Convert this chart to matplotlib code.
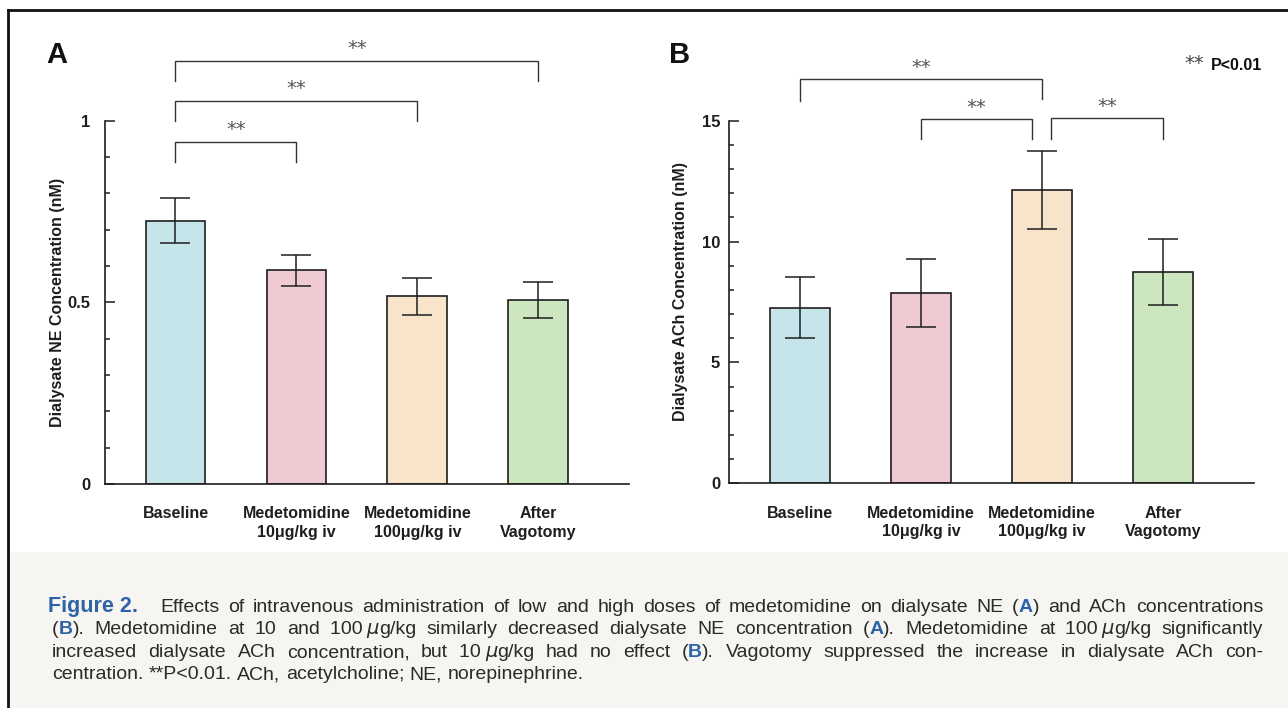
import numpy as np
import matplotlib
matplotlib.use("Agg")
import matplotlib.pyplot as plt
from matplotlib.ticker import MultipleLocator
from matplotlib.lines import Line2D
from matplotlib.patches import Rectangle

# ---------------- data ----------------
categories = ["Baseline", "Medetomidine\n10\u03bcg/kg iv", "Medetomidine\n100\u03bcg/kg iv", "After\nVagotomy"]
ne_mean = [0.725, 0.588, 0.517, 0.507]
ne_err = [0.061, 0.043, 0.051, 0.050]
ach_mean = [7.27, 7.86, 12.13, 8.74]
ach_err = [1.26, 1.41, 1.60, 1.37]
bar_colors = ["#c6e5eb", "#f0cad3", "#f7e4cb", "#cce6c0"]
ne_ticks = [0, 0.5, 1]
ne_ticklabels = ["0", "0.5", "1"]
ach_ticks = [0, 5, 10, 15]
ach_ticklabels = ["0", "5", "10", "15"]
sig_pairs_A = [(0, 1), (0, 2), (0, 3)]
sig_y_A = [0.942, 1.055, 1.165]
sig_pairs_B = [(0, 2), (1, 2), (2, 3)]
sig_y_B = [16.71, 15.07, 15.10]

W, H = 1288, 708
plt.rcParams["font.family"] = ["Liberation Sans", "DejaVu Sans"]
fig = plt.figure(figsize=(W / 100, H / 100), dpi=100)
fig.patch.set_facecolor("white")

def fx(x):
    return x / W

def fy(y):
    return 1 - y / H

INK = "#1e1e1e"

# caption background and frame
fig.add_artist(Rectangle((fx(8), 0), 1 - fx(8), fy(552), transform=fig.transFigure,
                         facecolor="#f6f5f1", edgecolor="none", zorder=0))
fig.add_artist(Line2D([fx(8), fx(8)], [0, fy(10)], transform=fig.transFigure, color="#111", lw=2))
fig.add_artist(Line2D([fx(8), 1], [fy(10), fy(10)], transform=fig.transFigure, color="#111", lw=2))


def panel(ax, means, errs, ymax, ticks, ticklabels, minor, ylabel, ylab_x, ylab_y, ypad):
    x = np.arange(len(categories))
    ax.bar(x, means, width=0.494, color=bar_colors, edgecolor=INK, linewidth=1.2, zorder=2)
    ax.errorbar(x, means, yerr=errs, fmt="none", ecolor=INK, elinewidth=1.1,
                capsize=11, capthick=1.1, zorder=3)
    ax.set_xlim(-0.586, 3.75)
    ax.set_ylim(0, ymax)
    ax.patch.set_alpha(0)
    for s in ["top", "right"]:
        ax.spines[s].set_visible(False)
    for s in ["left", "bottom"]:
        ax.spines[s].set_linewidth(1.2)
        ax.spines[s].set_color(INK)
    ax.set_yticks(ticks)
    ax.set_yticklabels(ticklabels, fontweight="bold", fontsize=12, color=INK)
    ax.yaxis.set_minor_locator(MultipleLocator(minor))
    ax.tick_params(axis="y", which="major", direction="in", length=7, width=1.1, pad=ypad, color=INK)
    ax.tick_params(axis="y", which="minor", direction="in", length=3.8, width=1.1, color=INK)
    ax.set_xticks(x)
    ax.set_xticklabels(categories, fontweight="bold", fontsize=11.5, color=INK, linespacing=1.3)
    ax.tick_params(axis="x", length=0, pad=16)
    ax.set_ylabel(ylabel, fontweight="bold", fontsize=11.5, color=INK)
    ax.yaxis.set_label_coords(ylab_x, ylab_y)


def bracket(ax, x1, x2, y, drop_l, drop_r):
    ax.plot([x1, x1, x2, x2], [y - drop_l, y, y, y - drop_r], color="#333", lw=1.0,
            clip_on=False, zorder=4, solid_joinstyle="miter")


def stars(ax, xc, y, off):
    ax.annotate("**", xy=(xc, y), xytext=(0, off), textcoords="offset points",
                ha="center", va="baseline", fontsize=14, color="#555",
                family=["DejaVu Sans"], annotation_clip=False)


axA = fig.add_axes([fx(104.6), fy(484), fx(524.3), 363.3 / H])
panel(axA, ne_mean, ne_err, 1.0, ne_ticks, ne_ticklabels, 0.1,
      "Dialysate NE Concentration (nM)", -0.076, 0.5, 10)
for (a, b), y in zip(sig_pairs_A, sig_y_A):
    bracket(axA, a, b, y, 0.057, 0.057)
    stars(axA, (a + b) / 2, y, 5)

axB = fig.add_axes([fx(729.1), fy(483.3), fx(524.4), 362.6 / H])
panel(axB, ach_mean, ach_err, 15, ach_ticks, ach_ticklabels, 1,
      "Dialysate ACh Concentration (nM)", -0.078, 0.528, 6.5)
nudges = [(0, 0), (0, -0.083), (0.074, 0)]
drops = [(0.88, 0.82), (0.84, 0.84), (0.87, 0.87)]
for ((a, b), y, (na, nb), (dl, dr)) in zip(sig_pairs_B, sig_y_B, nudges, drops):
    bracket(axB, a + na, b + nb, y, dl, dr)
    stars(axB, (a + na + b + nb) / 2, y, 4.5)

# panel letters and legend note
fig.text(fx(46), fy(63), "A", fontsize=21, fontweight="bold", color="#111", va="baseline")
fig.text(fx(669), fy(63), "B", fontsize=21, fontweight="bold", color="#111", va="baseline")
fig.text(fx(1184), fy(69), "**", fontsize=14, color="#444", va="baseline", family=["DejaVu Sans"])
fig.text(fx(1211), fy(70), "P<0.01", fontsize=11.5, fontweight="bold", color="#111", va="baseline")

# ---------------- caption ----------------
BLUE = "#2e63a8"
TXT = "#2a2a2a"
CAP_FS = 14.0
R, B = "r", "b"
cap_lines = [
    [[("Effects", R)], [("of", R)], [("intravenous", R)], [("administration", R)], [("of", R)],
     [("low", R)], [("and", R)], [("high", R)], [("doses", R)], [("of", R)], [("medetomidine", R)],
     [("on", R)], [("dialysate", R)], [("NE", R)], [("(", R), ("A", B), (")", R)], [("and", R)],
     [("ACh", R)], [("concentrations", R)]],
    [[("(", R), ("B", B), (").", R)], [("Medetomidine", R)], [("at", R)], [("10", R)], [("and", R)],
     [("100\u2009", R), ("\u03bc", "i"), ("g/kg", R)], [("similarly", R)], [("decreased", R)],
     [("dialysate", R)], [("NE", R)], [("concentration", R)], [("(", R), ("A", B), (").", R)],
     [("Medetomidine", R)], [("at", R)], [("100\u2009", R), ("\u03bc", "i"), ("g/kg", R)],
     [("significantly", R)]],
    [[("increased", R)], [("dialysate", R)], [("ACh", R)], [("concentration,", R)], [("but", R)],
     [("10\u2009", R), ("\u03bc", "i"), ("g/kg", R)], [("had", R)], [("no", R)], [("effect", R)],
     [("(", R), ("B", B), (").", R)], [("Vagotomy", R)], [("suppressed", R)], [("the", R)],
     [("increase", R)], [("in", R)], [("dialysate", R)], [("ACh", R)], [("con-", R)]],
    [[("centration.", R)], [("**P<0.01.", R)], [("ACh,", R)], [("acetylcholine;", R)], [("NE,", R)],
     [("norepinephrine.", R)]],
]
line_start = [160, 52, 52, 52]
line_base = [612, 634, 657, 679]
justify = [True, True, True, False]
RIGHT = 1263

renderer = fig.canvas.get_renderer()


def style_kw(st):
    if st == B:
        return dict(color=BLUE, fontweight="bold")
    if st == "i":
        return dict(color=TXT, style="italic", family=["DejaVu Sans"])
    return dict(color=TXT)


def measure(s, st):
    t = fig.text(0, 0, s, fontsize=CAP_FS, **style_kw(st))
    w = t.get_window_extent(renderer).width
    t.remove()
    return w

space_w = measure("a a", R) - measure("aa", R)

fig.text(fx(48), fy(line_base[0]), "Figure 2.", fontsize=15.5, fontweight="bold",
         color=BLUE, va="baseline")

for words, x0, yb, jus in zip(cap_lines, line_start, line_base, justify):
    widths = [[measure(s, st) for s, st in word] for word in words]
    totals = [sum(w) for w in widths]
    if jus and len(words) > 1:
        gap = (RIGHT - x0 - sum(totals)) / (len(words) - 1)
    else:
        gap = space_w
    x = x0
    for word, ws in zip(words, widths):
        for (s, st), w in zip(word, ws):
            fig.text(fx(x), fy(yb), s, fontsize=CAP_FS, va="baseline", **style_kw(st))
            x += w
        x += gap

fig.savefig("out.png", dpi=100, facecolor=fig.get_facecolor())
